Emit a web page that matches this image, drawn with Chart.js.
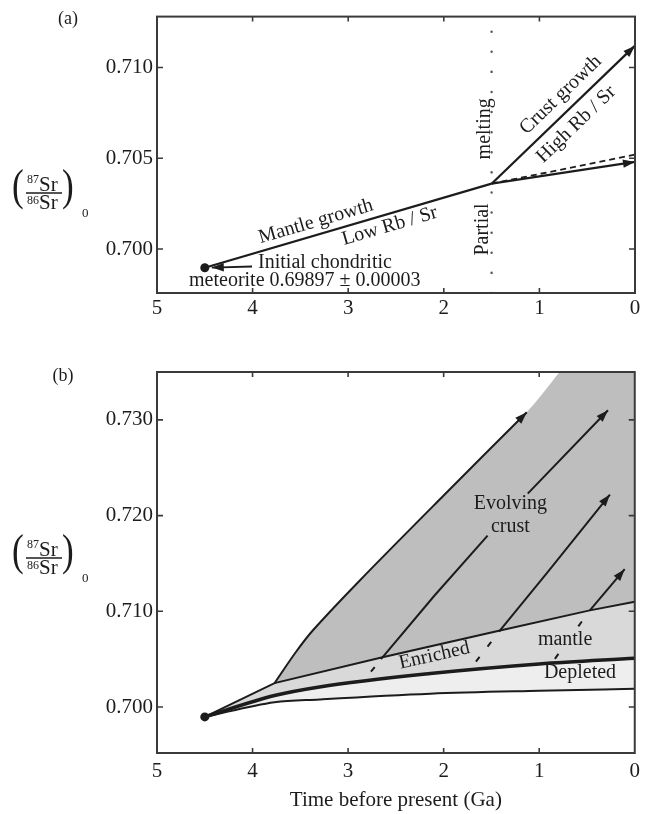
<!DOCTYPE html>
<html lang="en">
<head>
<meta charset="utf-8">
<title>Strontium isotope evolution</title>
<script src="https://cdn.jsdelivr.net/npm/chart.js@4.4.1/dist/chart.umd.min.js"></script>
<style>
  html, body { margin: 0; padding: 0; background: #ffffff; }
  .panel { position: absolute; left: 0; }
  #panelA { top: 0; }
  #panelB { top: 330px; }
  canvas { display: block; }
</style>
</head>
<body>
<div class="panel" id="panelA"><canvas id="chartA" width="646" height="330"></canvas></div>
<div class="panel" id="panelB"><canvas id="chartB" width="646" height="484"></canvas></div>
<script>
// ---------- shared values ----------
const timeTicks = [5, 4, 3, 2, 1, 0];
const INITIAL_AGE = 4.5;
const INITIAL_RATIO = 0.69897;
const INITIAL_ERROR = 0.00003;
const MELT_AGE = 1.5;

// ---------- panel (a): one partial-melting event ----------
const ratioTicksA = [0.700, 0.705, 0.710];
const RATIO_MIN_A = 0.69758;
const RATIO_MAX_A = 0.7128;
const mantleTimesA = [INITIAL_AGE, MELT_AGE];
const mantleRatiosA = [INITIAL_RATIO, 0.7036];
const residueTimesA = [MELT_AGE, 0];
const residueRatiosA = [0.7036, 0.7048];
const unmeltedTimesA = [MELT_AGE, 0];
const unmeltedRatiosA = [0.7036, 0.7052];
const crustTimesA = [MELT_AGE, 0];
const crustRatiosA = [0.7036, 0.7112];
const meltTimesA = [MELT_AGE, MELT_AGE];
const meltRatiosA = [RATIO_MIN_A, RATIO_MAX_A];

// ---------- panel (b): continuous crust extraction ----------
const ratioTicksB = [0.700, 0.710, 0.720, 0.730];
const RATIO_MIN_B = 0.6952;
const RATIO_MAX_B = 0.7350;
const enrichedTimes = [INITIAL_AGE, 3.77, 2.64, 1.41, 0.47, 0];
const enrichedRatios = [INITIAL_RATIO, 0.7025, 0.7052, 0.7080, 0.7101, 0.7110];
const depletedTopTimes = [INITIAL_AGE, 3.77, 3.3, 2.14, 1.0, 0];
const depletedTopRatios = [INITIAL_RATIO, 0.7012, 0.7021, 0.7035, 0.7045, 0.7051];
const depletedBaseTimes = [INITIAL_AGE, 3.77, 3.3, 2.14, 1.0, 0];
const depletedBaseRatios = [INITIAL_RATIO, 0.7005, 0.7008, 0.7014, 0.7017, 0.7019];
const crustEdgeTimes = [3.77, 3.55, 3.37, 2.88, 2.0, 1.13];
const crustEdgeRatios = [0.7025, 0.7057, 0.7080, 0.7132, 0.7221, 0.7308];
// the crust field keeps rising past the top of the frame
const crustFieldTimes = [3.77, 3.55, 3.37, 2.88, 2.0, 1.13, 0.4, 0];
const crustFieldRatios = [0.7025, 0.7057, 0.7080, 0.7132, 0.7221, 0.7308, 0.7391, 0.7391];
const crustBTimes = [2.64, 2.1, 1.54, 1.33, 1.12, 0.28];
const crustBRatios = [0.7052, 0.7116, 0.7179, null, 0.7223, 0.7310];
const crustCTimes = [1.41, 0.92, 0.26];
const crustCRatios = [0.7080, 0.7140, 0.7222];
const crustDTimes = [0.47, 0.105];
const crustDRatios = [0.7101, 0.7144];
const tailBTimes = [2.80, 2.64];
const tailBRatios = [0.7032, 0.7052];
const tailCTimes = [1.72, 1.41];
const tailCRatios = [0.7040, 0.7080];
const tailDTimes = [0.86, 0.47];
const tailDRatios = [0.7047, 0.7101];

// ---------- styling ----------
const SERIF = '"Liberation Serif", "DejaVu Serif", serif';
const INK = '#1c1c1c';
const FRAME = '#3a3a3a';
const CRUST_FILL = '#bebebe';
const ENRICHED_FILL = '#d9d9d9';
const DEPLETED_FILL = '#eeeeee';

function pts(times, ratios) {
  return times.map((t, i) => ({ x: t, y: ratios[i] }));
}

const lineBase = {
  pointRadius: 0, pointHoverRadius: 0, borderColor: INK, backgroundColor: INK,
  fill: false, tension: 0, borderWidth: 2, borderCapStyle: 'butt', order: 0
};

function drawHead(ctx, x0, y0, x1, y1, color) {
  const ang = Math.atan2(y1 - y0, x1 - x0);
  const L = 12, W = 4.2;
  const bx = x1 - L * Math.cos(ang), by = y1 - L * Math.sin(ang);
  const nx = -Math.sin(ang), ny = Math.cos(ang);
  ctx.fillStyle = color;
  ctx.beginPath();
  ctx.moveTo(x1, y1);
  ctx.lineTo(bx + nx * W, by + ny * W);
  ctx.lineTo(bx - nx * W, by - ny * W);
  ctx.closePath();
  ctx.fill();
}

// position on a polyline at time t, shifted along its normal by `offset` pixels
function alongLine(chart, times, ratios, t, offset) {
  const xs = chart.scales.x, ys = chart.scales.y;
  let i = 0;
  while (i < times.length - 2 && !(t <= times[i] && t >= times[i + 1])) i++;
  const x0 = xs.getPixelForValue(times[i]), y0 = ys.getPixelForValue(ratios[i]);
  const x1 = xs.getPixelForValue(times[i + 1]), y1 = ys.getPixelForValue(ratios[i + 1]);
  const f = (t - times[i]) / (times[i + 1] - times[i]);
  const ang = Math.atan2(y1 - y0, x1 - x0);
  return {
    x: x0 + f * (x1 - x0) + Math.sin(ang) * offset,
    y: y0 + f * (y1 - y0) - Math.cos(ang) * offset,
    ang
  };
}

function drawSrRatio(ctx, x, yBar) {
  ctx.save();
  ctx.fillStyle = INK;
  ctx.strokeStyle = INK;
  ctx.textBaseline = 'alphabetic';
  ctx.textAlign = 'left';
  ctx.font = `44px ${SERIF}`;
  ctx.save(); ctx.translate(x, yBar + 7); ctx.scale(0.8, 1); ctx.fillText('(', 0, 0); ctx.restore();
  ctx.save(); ctx.translate(x + 50, yBar + 7); ctx.scale(0.8, 1); ctx.fillText(')', 0, 0); ctx.restore();
  ctx.font = `12px ${SERIF}`;
  ctx.fillText('87', x + 15, yBar - 10);
  ctx.fillText('86', x + 15, yBar + 11);
  ctx.font = `21px ${SERIF}`;
  ctx.fillText('Sr', x + 27, yBar - 2);
  ctx.fillText('Sr', x + 27, yBar + 16);
  ctx.lineWidth = 1.3;
  ctx.beginPath(); ctx.moveTo(x + 14, yBar); ctx.lineTo(x + 50, yBar); ctx.stroke();
  ctx.font = `13px ${SERIF}`;
  ctx.fillText('0', x + 70, yBar + 24);
  ctx.restore();
}

const decor = {
  id: 'decor',
  afterDatasetsDraw(chart, args, opts) {
    const ctx = chart.ctx;
    const xs = chart.scales.x, ys = chart.scales.y;
    ctx.save();
    // arrowheads at the ends of growth paths
    chart.data.datasets.forEach((ds, i) => {
      if (!ds.arrowHead) return;
      const p = chart.getDatasetMeta(i).data.filter(e => !e.skip);
      const b = p[p.length - 1], a = p[p.length - 2];
      let sx = a.x, sy = a.y;
      if (b.cp1x !== undefined && (Math.abs(b.cp1x - b.x) > 0.5 || Math.abs(b.cp1y - b.y) > 0.5)) { sx = b.cp1x; sy = b.cp1y; }
      drawHead(ctx, sx, sy, b.x, b.y, ds.borderColor);
    });
    // pointer from the meteorite note to the starting point
    (opts.pointers || []).forEach(pt => {
      const x0 = xs.getPixelForValue(pt.from[0]), y0 = ys.getPixelForValue(pt.from[1]);
      const xt = xs.getPixelForValue(pt.to[0]), yt = ys.getPixelForValue(pt.to[1]);
      const d = Math.hypot(xt - x0, yt - y0);
      const x1 = xt + (x0 - xt) * pt.gap / d, y1 = yt + (y0 - yt) * pt.gap / d;
      ctx.strokeStyle = INK; ctx.lineWidth = 1.8;
      ctx.beginPath(); ctx.moveTo(x0, y0); ctx.lineTo(x1, y1); ctx.stroke();
      drawHead(ctx, x0, y0, x1, y1, INK);
    });
    // text notes
    ctx.fillStyle = INK;
    (opts.notes || []).forEach(n => {
      let x, y, ang = 0;
      if (n.line) {
        const p = alongLine(chart, n.line[0], n.line[1], n.at, n.offset);
        x = p.x; y = p.y; ang = p.ang;
      } else {
        x = xs.getPixelForValue(n.t); y = ys.getPixelForValue(n.r);
        ang = (n.rot || 0) * Math.PI / 180;
      }
      ctx.save();
      ctx.translate(x, y);
      ctx.rotate(ang);
      ctx.font = `${n.size || 20}px ${SERIF}`;
      ctx.textAlign = n.align || 'center';
      ctx.textBaseline = 'middle';
      ctx.fillText(n.text, 0, 0);
      ctx.restore();
    });
    ctx.restore();
  },
  afterDraw(chart, args, opts) {
    const ctx = chart.ctx;
    const xs = chart.scales.x, ys = chart.scales.y;
    const { left, right, top, bottom } = chart.chartArea;
    ctx.save();
    ctx.strokeStyle = FRAME;
    ctx.lineWidth = 2;
    ctx.strokeRect(left, top, right - left, bottom - top);
    ctx.lineWidth = 1.6;
    ctx.beginPath();
    timeTicks.forEach(v => {
      if (v === xs.min || v === xs.max) return;
      const x = xs.getPixelForValue(v);
      ctx.moveTo(x, bottom); ctx.lineTo(x, bottom - 5);
      ctx.moveTo(x, top); ctx.lineTo(x, top + 5);
    });
    opts.yTicks.forEach(v => {
      const y = ys.getPixelForValue(v);
      ctx.moveTo(left, y); ctx.lineTo(left + 6, y);
      ctx.moveTo(right, y); ctx.lineTo(right - 6, y);
    });
    ctx.stroke();
    // panel tag and ratio label
    ctx.fillStyle = INK;
    ctx.font = `18px ${SERIF}`;
    ctx.textAlign = 'center';
    ctx.textBaseline = 'middle';
    ctx.fillText(opts.tag[0], opts.tag[1], opts.tag[2]);
    drawSrRatio(ctx, opts.ratioLabel[0], opts.ratioLabel[1]);
    ctx.restore();
  }
};

function axes(yTicks, yMin, yMax, xHeight, xPad, title) {
  return {
    x: {
      type: 'linear', reverse: true, min: 0, max: 5,
      afterBuildTicks: s => { s.ticks = timeTicks.map(v => ({ value: v })); },
      afterFit: s => { s.height = xHeight; },
      grid: { display: false, drawTicks: false },
      border: { display: false },
      ticks: { color: INK, font: { family: SERIF, size: 21 }, padding: xPad, maxRotation: 0, autoSkip: false,
               callback: v => String(v) },
      title: title ? { display: true, text: title, color: INK, font: { family: SERIF, size: 21 },
                       padding: { top: 0, bottom: 1 } } : { display: false }
    },
    y: {
      type: 'linear', min: yMin, max: yMax,
      afterBuildTicks: s => { s.ticks = yTicks.map(v => ({ value: v })); },
      afterFit: s => { s.width = 157; },
      grid: { display: false, drawTicks: false },
      border: { display: false },
      ticks: { color: INK, font: { family: SERIF, size: 21 }, padding: 4, callback: v => v.toFixed(3) }
    }
  };
}

// ---------- panel (a) ----------
new Chart(document.getElementById('chartA'), {
  type: 'line',
  data: {
    datasets: [
      { ...lineBase, data: pts([INITIAL_AGE], [INITIAL_RATIO]), showLine: false, pointRadius: 4.5, pointBorderWidth: 0, pointBackgroundColor: INK },
      { ...lineBase, data: pts(mantleTimesA, mantleRatiosA), borderWidth: 2.2 },
      { ...lineBase, data: pts(crustTimesA, crustRatiosA), borderWidth: 2.2, arrowHead: true },
      { ...lineBase, data: pts(residueTimesA, residueRatiosA), borderWidth: 2.2, arrowHead: true },
      { ...lineBase, data: pts(unmeltedTimesA, unmeltedRatiosA), borderWidth: 1.8, borderDash: [6, 4] },
      { ...lineBase, data: pts(meltTimesA, meltRatiosA), borderWidth: 2.4, borderDash: [0.1, 20],
        borderCapStyle: 'round', borderColor: '#555' }
    ]
  },
  options: {
    responsive: false, animation: false, events: [],
    layout: { padding: { left: 0, top: 10, right: 11, bottom: 0 } },
    plugins: {
      legend: { display: false }, tooltip: { enabled: false },
      decor: {
        yTicks: ratioTicksA, tag: ['(a)', 68, 19], ratioLabel: [12, 193],
        pointers: [{ from: [4.006, 0.69904], to: [INITIAL_AGE, INITIAL_RATIO], gap: 7 }],
        notes: [
          { text: 'Mantle growth', line: [mantleTimesA, mantleRatiosA], at: 3.3, offset: 13 },
          { text: 'Low Rb / Sr', line: [mantleTimesA, mantleRatiosA], at: 2.6, offset: -12 },
          { text: 'Crust growth', line: [crustTimesA, crustRatiosA], at: 0.66, offset: 16 },
          { text: 'High Rb / Sr', line: [crustTimesA, crustRatiosA], at: 0.73, offset: -16 },
          { text: 'melting', t: 1.569, r: 0.70662, rot: -90 },
          { text: 'Partial', t: 1.59, r: 0.70108, rot: -90 },
          { text: 'Initial chondritic', t: 3.943, r: 0.69925, align: 'left' },
          { text: `meteorite ${INITIAL_RATIO.toFixed(5)} \u00b1 ${INITIAL_ERROR.toFixed(5)}`, t: 4.665, r: 0.69828, align: 'left' }
        ]
      }
    },
    scales: axes(ratioTicksA, RATIO_MIN_A, RATIO_MAX_A, 37, 3, null)
  },
  plugins: [decor]
});

// ---------- panel (b) ----------
new Chart(document.getElementById('chartB'), {
  type: 'line',
  data: {
    datasets: [
      // 0: lower bound of the depleted mantle
      { ...lineBase, data: pts(depletedBaseTimes, depletedBaseRatios), borderWidth: 2, cubicInterpolationMode: 'monotone', order: 7 },
      // 1: upper bound of the depleted mantle (heavy line)
      { ...lineBase, data: pts(depletedTopTimes, depletedTopRatios), borderWidth: 3.6, cubicInterpolationMode: 'monotone',
        fill: 0, backgroundColor: DEPLETED_FILL, order: 8 },
      // 2: enriched mantle
      { ...lineBase, data: pts(enrichedTimes, enrichedRatios), borderWidth: 2, fill: 1, backgroundColor: ENRICHED_FILL, order: 9 },
      // 3: field of evolving crust
      { ...lineBase, data: pts(crustFieldTimes, crustFieldRatios), borderWidth: 0, borderColor: 'rgba(0,0,0,0)',
        tension: 0.3, capBezierPoints: false, fill: 2, backgroundColor: CRUST_FILL, order: 10 },
      // 4-7: crust growth paths
      { ...lineBase, data: pts(crustEdgeTimes, crustEdgeRatios), borderWidth: 2, tension: 0.3, capBezierPoints: false, arrowHead: true },
      { ...lineBase, data: pts(crustBTimes, crustBRatios), borderWidth: 2, arrowHead: true },
      { ...lineBase, data: pts(crustCTimes, crustCRatios), borderWidth: 2, arrowHead: true },
      { ...lineBase, data: pts(crustDTimes, crustDRatios), borderWidth: 2, arrowHead: true },
      // 8-10: dashed roots in the mantle
      { ...lineBase, data: pts(tailBTimes, tailBRatios), borderWidth: 2, borderDash: [6, 10], borderDashOffset: -6 },
      { ...lineBase, data: pts(tailCTimes, tailCRatios), borderWidth: 2, borderDash: [6, 13], borderDashOffset: -9 },
      { ...lineBase, data: pts(tailDTimes, tailDRatios), borderWidth: 2, borderDash: [6, 34], borderDashOffset: -4 },
      // 11: meteorite starting point
      { ...lineBase, data: pts([INITIAL_AGE], [INITIAL_RATIO]), showLine: false, pointRadius: 4.5, pointBorderWidth: 0,
        pointBackgroundColor: INK, order: -1 }
    ]
  },
  options: {
    responsive: false, animation: false, events: [],
    layout: { padding: { left: 0, top: 42, right: 9, bottom: 0 } },
    plugins: {
      legend: { display: false }, tooltip: { enabled: false },
      decor: {
        yTicks: ratioTicksB, tag: ['(b)', 63, 46], ratioLabel: [12, 228],
        notes: [
          { text: 'Evolving', t: 1.302, r: 0.72120 },
          { text: 'crust', t: 1.302, r: 0.71880 },
          { text: 'Enriched', line: [enrichedTimes, enrichedRatios], at: 2.12, offset: -10 },
          { text: 'mantle', t: 0.729, r: 0.70699 },
          { text: 'Depleted', t: 0.573, r: 0.70354 }
        ]
      }
    },
    scales: axes(ratioTicksB, RATIO_MIN_B, RATIO_MAX_B, 61, 6, 'Time before present (Ga)')
  },
  plugins: [decor]
});
</script>
</body>
</html>
